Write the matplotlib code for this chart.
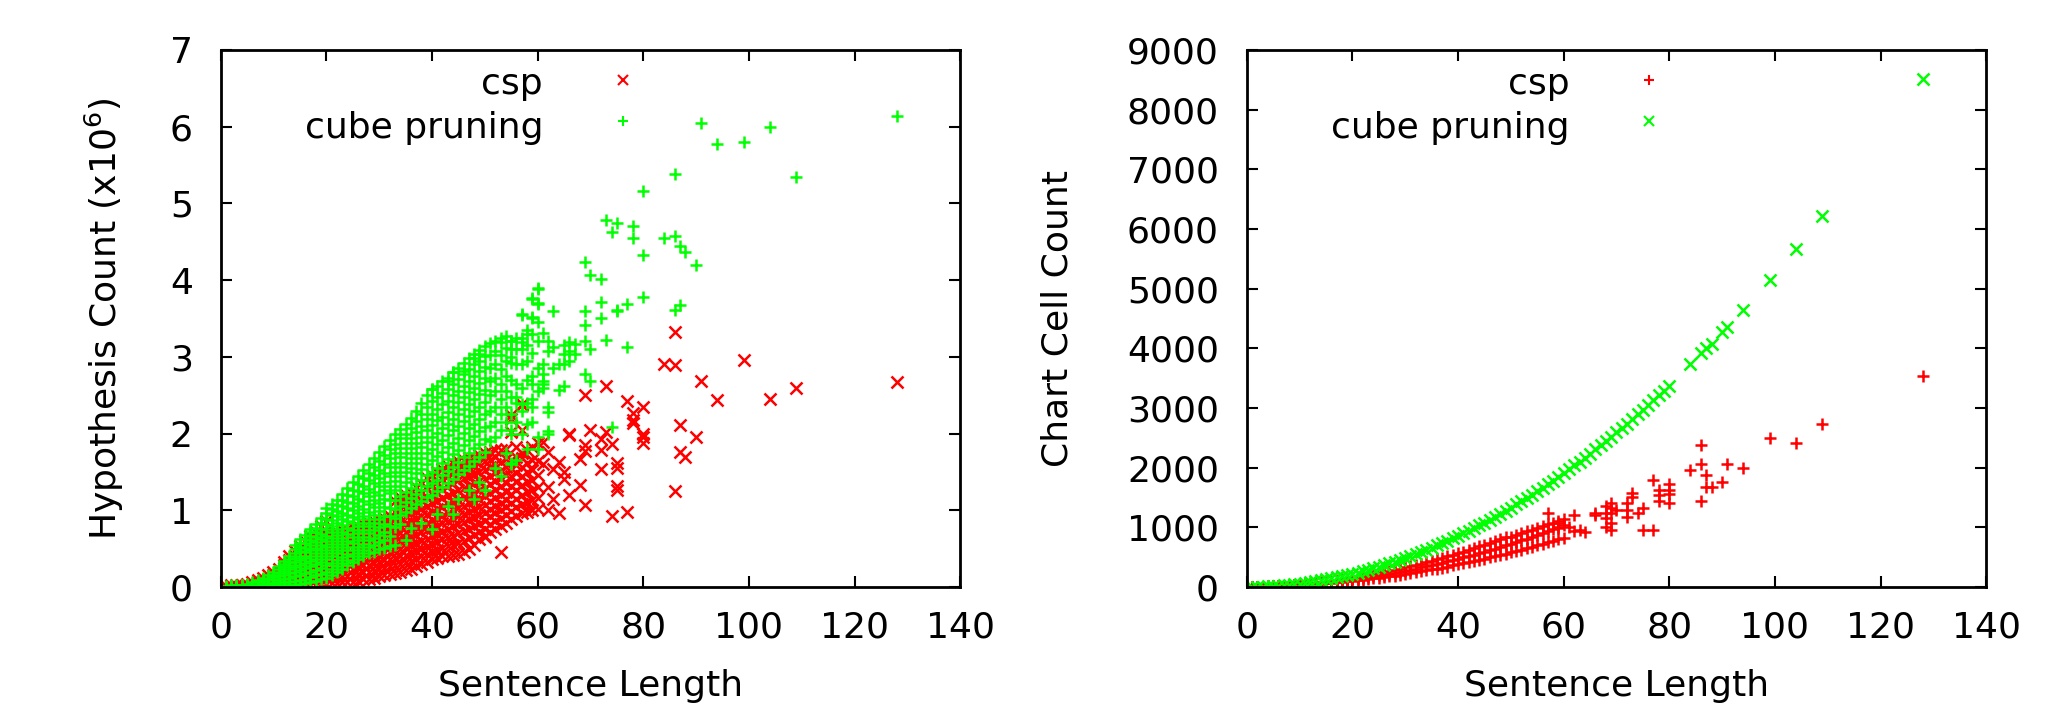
import numpy as np
import matplotlib.pyplot as plt

plt.rcParams['font.family'] = ['DejaVu Sans']
plt.rcParams['mathtext.fontset'] = 'dejavusans'

RED = '#ff0000'
GREEN = '#00ff00'

# ---- left panel: hypothesis count (x10^6) per sentence length ----
# rows: [length, value, value, ...]
hyp_csp_rows = [
    [1, 0.00, 0.01], [2, 0.00, 0.01, 0.02], [3, 0.00, 0.01, 0.02],
    [4, 0.00, 0.02, 0.03], [5, 0.01, 0.02, 0.04], [6, 0.01, 0.03, 0.06],
    [7, 0.01, 0.03, 0.06, 0.09], [8, 0.01, 0.04, 0.08, 0.12],
    [9, 0.01, 0.05, 0.10, 0.15],
    [10, 0.01, 0.04, 0.07, 0.10, 0.13, 0.16, 0.19],
    [11, 0.01, 0.04, 0.08, 0.12, 0.16, 0.20, 0.23],
    [12, 0.01, 0.05, 0.09, 0.13, 0.17, 0.21, 0.25, 0.29, 0.33],
    [13, 0.01, 0.05, 0.10, 0.15, 0.20, 0.25, 0.30, 0.35, 0.40],
    [14, 0.02, 0.06, 0.11, 0.17, 0.23, 0.29, 0.35, 0.41, 0.47],
    [15, 0.02, 0.07, 0.13, 0.19, 0.25, 0.31, 0.37, 0.43, 0.49, 0.54],
    [16, 0.02, 0.08, 0.14, 0.21, 0.28, 0.35, 0.41, 0.48, 0.54, 0.60],
    [17, 0.03, 0.09, 0.16, 0.23, 0.30, 0.37, 0.44, 0.51, 0.58, 0.66],
    [18, 0.03, 0.10, 0.17, 0.25, 0.32, 0.40, 0.48, 0.56, 0.64, 0.72],
    [19, 0.04, 0.11, 0.19, 0.27, 0.35, 0.43, 0.52, 0.61, 0.70, 0.80],
    [20, 0.04, 0.12, 0.20, 0.28, 0.37, 0.46, 0.55, 0.64, 0.73, 0.86],
    [21, 0.05, 0.12, 0.20, 0.28, 0.36, 0.44, 0.52, 0.60, 0.70],
    [22, 0.05, 0.13, 0.21, 0.29, 0.37, 0.45, 0.54, 0.63, 0.72],
    [23, 0.06, 0.14, 0.22, 0.30, 0.38, 0.47, 0.56, 0.65, 0.74],
    [24, 0.06, 0.14, 0.23, 0.31, 0.40, 0.49, 0.58, 0.67, 0.76],
    [25, 0.07, 0.15, 0.24, 0.33, 0.42, 0.51, 0.60, 0.69, 0.78],
    [26, 0.08, 0.17, 0.26, 0.35, 0.44, 0.53, 0.62, 0.71, 0.80],
    [27, 0.10, 0.19, 0.28, 0.37, 0.46, 0.55, 0.64, 0.73, 0.82],
    [28, 0.11, 0.20, 0.29, 0.39, 0.48, 0.57, 0.66, 0.75, 0.84],
    [29, 0.12, 0.21, 0.31, 0.40, 0.50, 0.59, 0.68, 0.77, 0.86],
    [30, 0.14, 0.23, 0.33, 0.42, 0.52, 0.61, 0.70, 0.79, 0.88],
    [31, 0.15, 0.25, 0.35, 0.44, 0.54, 0.63, 0.72, 0.81, 0.90],
    [32, 0.17, 0.27, 0.37, 0.46, 0.56, 0.65, 0.75, 0.84, 0.93],
    [33, 0.18, 0.28, 0.38, 0.48, 0.58, 0.68, 0.78, 0.88, 0.98, 1.12],
    [34, 0.20, 0.30, 0.40, 0.50, 0.60, 0.70, 0.80, 0.90, 1.00, 1.10, 1.17],
    [35, 0.22, 0.32, 0.42, 0.52, 0.62, 0.72, 0.83, 0.93, 1.03, 1.12, 1.20],
    [36, 0.24, 0.34, 0.44, 0.55, 0.65, 0.75, 0.86, 0.96, 1.06, 1.16, 1.24],
    [37, 0.27, 0.37, 0.47, 0.57, 0.68, 0.78, 0.89, 0.99, 1.09, 1.20, 1.30],
    [38, 0.30, 0.40, 0.50, 0.60, 0.71, 0.81, 0.92, 1.02, 1.13, 1.24, 1.36],
    [39, 0.33, 0.43, 0.53, 0.63, 0.74, 0.84, 0.95, 1.06, 1.17, 1.29, 1.42],
    [40, 0.36, 0.46, 0.56, 0.66, 0.77, 0.87, 0.98, 1.09, 1.21, 1.33, 1.46],
    [41, 0.38, 0.48, 0.59, 0.69, 0.80, 0.90, 1.01, 1.12, 1.24, 1.37, 1.50],
    [42, 0.40, 0.51, 0.62, 0.72, 0.83, 0.93, 1.04, 1.16, 1.28, 1.41, 1.54],
    [43, 0.41, 0.53, 0.65, 0.76, 0.86, 0.97, 1.08, 1.20, 1.32, 1.45, 1.58],
    [44, 0.42, 0.55, 0.67, 0.79, 0.89, 1.00, 1.11, 1.23, 1.36, 1.49, 1.62],
    [45, 0.43, 0.57, 0.70, 0.82, 0.92, 1.03, 1.14, 1.26, 1.39, 1.52, 1.64],
    [46, 0.45, 0.60, 0.73, 0.85, 0.95, 1.06, 1.17, 1.29, 1.42, 1.54, 1.66],
    [47, 0.50, 0.64, 0.76, 0.88, 0.98, 1.09, 1.20, 1.32, 1.44, 1.56, 1.68],
    [48, 0.55, 0.68, 0.79, 0.91, 1.01, 1.12, 1.23, 1.35, 1.47, 1.59, 1.70],
    [49, 0.62, 0.72, 0.82, 0.94, 1.04, 1.15, 1.26, 1.38, 1.50, 1.61, 1.72],
    [50, 0.66, 0.76, 0.86, 0.97, 1.07, 1.18, 1.29, 1.41, 1.53, 1.64, 1.74],
    [51, 0.72, 0.82, 0.92, 1.02, 1.12, 1.23, 1.34, 1.45, 1.56, 1.66, 1.76],
    [52, 0.76, 0.86, 0.96, 1.06, 1.16, 1.27, 1.38, 1.49, 1.60, 1.70, 1.78],
    [53, 0.80, 0.90, 1.00, 1.10, 1.20, 1.31, 1.42, 1.53, 1.63, 1.78],
    [54, 0.84, 0.94, 1.04, 1.14, 1.24, 1.35, 1.46, 1.57, 1.67, 1.80],
    [55, 0.88, 0.99, 1.10, 1.21, 1.32, 1.44, 1.55, 1.66],
    [56, 0.93, 1.04, 1.15, 1.26, 1.37, 1.48, 1.59, 1.70, 1.82],
    [57, 0.96, 1.08, 1.20, 1.33, 1.45, 1.57, 1.68, 1.74],
    [58, 0.98, 1.11, 1.24, 1.37, 1.50, 1.62, 1.78],
    [59, 1.00, 1.13, 1.26, 1.39, 1.52, 1.65, 1.82],
    [60, 1.02, 1.16, 1.30, 1.46, 1.64, 1.88],
]
hyp_csp_extra_x = [86, 84, 86, 99, 73, 91, 128, 77, 94, 104, 109, 80, 78, 78, 78, 87, 80, 80, 80, 90,
                   73, 72, 72, 74, 87, 88, 72, 75, 75, 86, 74, 77, 69, 70, 66, 69, 69, 68, 68, 69,
                   75, 75, 64, 62, 61, 62, 64, 65, 63, 62, 57, 55, 53, 61, 65, 66, 63, 55, 57, 57,
                   55, 50, 66]
hyp_csp_extra_y = [3.32, 2.91, 2.89, 2.96, 2.62, 2.69, 2.67, 2.42, 2.44, 2.45, 2.59, 2.34, 2.27, 2.18, 2.14, 2.11, 2.00, 1.95, 1.88, 1.95,
                   2.02, 1.93, 1.79, 1.87, 1.76, 1.69, 1.54, 1.55, 1.27, 1.25, 0.93, 0.98, 2.50, 2.04, 1.98, 1.85, 1.77, 1.67, 1.33, 1.07,
                   1.61, 1.32, 0.96, 1.00, 1.89, 1.76, 1.63, 1.41, 1.54, 1.30, 2.39, 2.24, 0.46, 1.60, 1.50, 1.20, 1.15, 2.02, 2.04, 2.37,
                   2.19, 0.65, 2.00]

hyp_cube_rows = [
    [1, 0.00, 0.01], [2, 0.00, 0.01, 0.02], [3, 0.00, 0.01, 0.02],
    [4, 0.01, 0.02, 0.03], [5, 0.01, 0.02, 0.04], [6, 0.01, 0.03, 0.06],
    [7, 0.01, 0.03, 0.06, 0.09], [8, 0.01, 0.04, 0.08, 0.12],
    [9, 0.01, 0.05, 0.10, 0.15],
    [10, 0.02, 0.05, 0.09, 0.13, 0.16, 0.19],
    [11, 0.02, 0.06, 0.10, 0.14, 0.18, 0.23, 0.27],
    [12, 0.02, 0.06, 0.11, 0.16, 0.21, 0.26, 0.30, 0.34],
    [13, 0.03, 0.07, 0.12, 0.18, 0.23, 0.28, 0.33, 0.37, 0.41],
    [14, 0.03, 0.08, 0.14, 0.20, 0.26, 0.32, 0.38, 0.44, 0.50, 0.55],
    [15, 0.04, 0.09, 0.15, 0.22, 0.28, 0.35, 0.41, 0.47, 0.52, 0.57, 0.62],
    [16, 0.05, 0.11, 0.18, 0.25, 0.31, 0.38, 0.45, 0.51, 0.57, 0.63, 0.68],
    [17, 0.06, 0.13, 0.20, 0.27, 0.34, 0.41, 0.48, 0.55, 0.61, 0.67, 0.72, 0.76],
    [18, 0.08, 0.15, 0.22, 0.30, 0.37, 0.44, 0.51, 0.58, 0.65, 0.71, 0.77, 0.82],
    [19, 0.10, 0.17, 0.25, 0.33, 0.40, 0.48, 0.55, 0.62, 0.69, 0.76, 0.83, 0.90],
    [20, 0.12, 0.20, 0.28, 0.36, 0.44, 0.52, 0.60, 0.67, 0.75, 0.82, 0.89, 0.96, 1.03],
    [21, 0.15, 0.23, 0.31, 0.40, 0.48, 0.56, 0.64, 0.72, 0.80, 0.87, 0.94, 1.01, 1.08],
    [22, 0.19, 0.27, 0.35, 0.44, 0.52, 0.60, 0.68, 0.76, 0.84, 0.92, 0.99, 1.07, 1.14],
    [23, 0.24, 0.31, 0.39, 0.48, 0.56, 0.64, 0.72, 0.81, 0.89, 0.97, 1.05, 1.13, 1.21],
    [24, 0.28, 0.35, 0.43, 0.52, 0.60, 0.69, 0.77, 0.86, 0.94, 1.03, 1.11, 1.20, 1.29],
    [25, 0.33, 0.40, 0.48, 0.57, 0.65, 0.74, 0.83, 0.91, 1.00, 1.09, 1.18, 1.27, 1.37],
    [26, 0.37, 0.44, 0.52, 0.61, 0.70, 0.79, 0.88, 0.97, 1.06, 1.15, 1.25, 1.34, 1.44],
    [27, 0.40, 0.48, 0.56, 0.65, 0.74, 0.83, 0.93, 1.02, 1.12, 1.22, 1.32, 1.42, 1.52],
    [28, 0.44, 0.52, 0.61, 0.70, 0.79, 0.89, 0.98, 1.08, 1.18, 1.28, 1.39, 1.49, 1.60],
    [29, 0.46, 0.55, 0.64, 0.74, 0.84, 0.94, 1.04, 1.14, 1.24, 1.35, 1.46, 1.57, 1.68],
    [30, 0.49, 0.58, 0.68, 0.78, 0.88, 0.99, 1.09, 1.20, 1.31, 1.42, 1.53, 1.64, 1.76],
    [31, 0.51, 0.61, 0.71, 0.82, 0.93, 1.04, 1.15, 1.26, 1.37, 1.49, 1.60, 1.72, 1.84],
    [32, 0.53, 0.66, 0.80, 0.92, 1.03, 1.13, 1.22, 1.32, 1.44, 1.56, 1.68, 1.80, 1.92],
    [33, 0.55, 0.78, 0.90, 1.02, 1.14, 1.26, 1.38, 1.50, 1.62, 1.75, 1.87, 1.99],
    [34, 0.82, 0.94, 1.06, 1.19, 1.31, 1.44, 1.56, 1.69, 1.81, 1.94, 2.06],
    [35, 0.61, 0.98, 1.11, 1.24, 1.37, 1.50, 1.62, 1.75, 1.88, 2.00, 2.13],
    [36, 0.77, 1.03, 1.16, 1.29, 1.42, 1.55, 1.68, 1.81, 1.94, 2.07, 2.20],
    [37, 1.08, 1.21, 1.34, 1.48, 1.61, 1.75, 1.88, 2.02, 2.16, 2.30],
    [38, 0.84, 1.12, 1.26, 1.40, 1.54, 1.68, 1.82, 1.96, 2.10, 2.25, 2.40],
    [39, 1.17, 1.31, 1.46, 1.60, 1.75, 1.89, 2.04, 2.19, 2.34, 2.50],
    [40, 0.75, 1.20, 1.35, 1.50, 1.65, 1.80, 1.95, 2.11, 2.26, 2.42, 2.58],
    [41, 0.95, 1.25, 1.40, 1.55, 1.71, 1.86, 2.01, 2.17, 2.32, 2.47, 2.62],
    [42, 1.30, 1.46, 1.61, 1.76, 1.92, 2.07, 2.22, 2.38, 2.53, 2.68],
    [43, 1.05, 1.36, 1.51, 1.67, 1.82, 1.98, 2.13, 2.28, 2.43, 2.58, 2.73],
    [44, 0.95, 1.41, 1.57, 1.73, 1.88, 2.04, 2.19, 2.34, 2.50, 2.65, 2.80],
    [45, 1.15, 1.47, 1.63, 1.79, 1.94, 2.10, 2.26, 2.41, 2.56, 2.71, 2.86],
    [46, 1.53, 1.69, 1.85, 2.01, 2.16, 2.32, 2.47, 2.62, 2.77, 2.92],
    [47, 1.26, 1.58, 1.75, 1.91, 2.07, 2.23, 2.38, 2.54, 2.69, 2.84, 2.98],
    [48, 1.15, 1.64, 1.81, 1.97, 2.13, 2.29, 2.45, 2.60, 2.75, 2.90, 3.04],
    [49, 1.37, 1.70, 1.87, 2.03, 2.19, 2.35, 2.51, 2.66, 2.81, 2.95, 3.09],
    [50, 1.26, 1.76, 1.93, 2.09, 2.25, 2.41, 2.57, 2.72, 2.87, 3.01, 3.14],
    [51, 1.90, 2.10, 2.30, 2.50, 2.68, 2.86, 3.03, 3.18],
    [52, 1.55, 1.95, 2.15, 2.35, 2.55, 2.73, 2.91, 3.07, 3.21],
    [53, 1.45, 2.05, 2.25, 2.45, 2.65, 2.84, 3.02, 3.24],
    [54, 1.75, 2.15, 2.35, 2.55, 2.75, 2.95, 3.12, 3.27],
    [55, 1.60, 2.04, 2.26, 2.48, 2.70, 2.92, 3.10, 3.20],
    [56, 1.65, 2.15, 2.40, 2.65, 2.90, 3.10, 3.25],
    [57, 2.00, 2.30, 2.60, 2.90, 3.10, 3.25, 3.55],
    [58, 1.80, 2.40, 2.70, 2.95, 3.15, 3.35],
    [59, 2.15, 2.45, 2.75, 3.05, 3.30, 3.52, 3.76],
    [60, 1.95, 2.55, 2.85, 3.20, 3.45, 3.70, 3.89],
]
hyp_cube_extra_x = [57, 60, 59, 60, 59, 61, 62, 62, 61, 63, 65, 65, 63, 64, 66, 66, 58, 57, 55, 53,
                    55, 49, 48, 46, 44, 40, 43, 61, 59, 61, 64, 56, 57, 59, 62, 58, 62, 55, 60, 55,
                    63, 61, 61, 65, 69, 70, 67, 67, 69, 70, 65, 66, 62, 62, 74, 72, 75, 77, 73, 77,
                    69, 69, 69, 70, 72, 72, 80, 75, 86, 87, 73, 75, 74, 78, 78, 84, 86, 87, 88, 90,
                    80, 80, 86, 91, 94, 99, 104, 109, 128]
hyp_cube_extra_y = [3.56, 3.90, 3.77, 3.69, 3.51, 3.31, 3.21, 3.08, 2.91, 3.13, 3.16, 3.04, 2.86, 2.90, 3.19, 3.08, 3.30, 3.19, 3.21, 3.19,
                    3.00, 3.04, 2.99, 2.82, 2.80, 2.58, 2.69, 2.69, 2.65, 2.60, 2.57, 2.47, 2.39, 2.35, 2.28, 2.13, 2.00, 2.00, 1.80, 1.61,
                    3.60, 2.77, 2.64, 2.62, 2.77, 2.68, 3.17, 3.04, 3.21, 3.10, 2.90, 2.95, 2.35, 2.03, 2.08, 3.51, 3.60, 3.69, 3.22, 3.13,
                    3.60, 3.41, 4.24, 4.07, 4.02, 3.72, 3.78, 3.61, 3.61, 3.68, 4.79, 4.74, 4.63, 4.71, 4.55, 4.55, 4.58, 4.44, 4.37, 4.20,
                    4.33, 5.16, 5.38, 6.05, 5.77, 5.80, 5.99, 5.35, 6.14]

# ---- right panel: chart cell count per sentence length ----
cell_csp_rows = [
    [1, 1, 1, 1], [2, 2, 3, 4], [3, 4, 5, 6], [4, 7, 8, 10], [5, 10, 12, 14],
    [6, 13, 16, 19], [7, 16, 20, 24], [8, 20, 25, 30], [9, 25, 31, 37], [10, 30, 37, 44],
    [11, 35, 44, 53], [12, 41, 51, 61], [13, 47, 59, 71], [14, 54, 67, 80], [15, 61, 76, 91],
    [16, 68, 85, 102], [17, 76, 95, 114], [18, 84, 105, 126], [19, 93, 116, 139], [20, 102, 128, 154],
    [21, 112, 140, 168], [22, 122, 153, 184], [23, 133, 166, 199], [24, 144, 180, 216], [25, 155, 194, 233],
    [26, 166, 208, 250], [27, 179, 224, 269], [28, 192, 240, 288], [29, 205, 256, 307], [30, 218, 273, 328],
    [31, 232, 290, 348], [32, 246, 308, 370], [33, 262, 327, 392], [34, 277, 346, 415], [35, 293, 366, 439],
    [36, 309, 386, 463], [37, 326, 407, 488], [38, 342, 428, 514], [39, 360, 450, 540], [40, 378, 472, 566],
    [41, 396, 495, 594], [42, 414, 518, 622], [43, 434, 542, 650], [44, 454, 567, 680], [45, 474, 592, 710],
    [46, 494, 617, 740], [47, 514, 643, 772], [48, 536, 670, 804], [49, 558, 697, 836], [50, 580, 725, 840],
    [51, 602, 753, 870], [52, 626, 782, 900], [53, 649, 811, 930], [54, 673, 841, 960], [55, 698, 872, 990],
    [56, 722, 903, 1020], [57, 747, 934, 1050], [58, 773, 966, 1080], [59, 799, 999, 1110], [60, 826, 1032, 1140],
]
cell_csp_extra_x = [57, 59, 59, 61, 62, 62, 63, 64, 66, 66, 68, 68, 68, 68, 69, 69, 69, 69, 69, 70,
                    72, 72, 72, 73, 73, 74, 75, 75, 77, 77, 78, 78, 78, 80, 80, 80, 80, 84, 86, 86,
                    86, 87, 87, 88, 90, 91, 94, 99, 104, 109, 128]
cell_csp_extra_y = [1243, 1076, 981, 1000, 1204, 940, 960, 920, 1243, 1204, 1355, 1243, 1149, 1008, 1400, 1316, 1232, 1065, 953, 1288,
                    1410, 1288, 1176, 1577, 1510, 1232, 1316, 953, 953, 1800, 1633, 1538, 1443, 1722, 1633, 1566, 1399, 1968, 2375, 2068,
                    1443, 1873, 1677, 1677, 1761, 2068, 1989, 2497, 2407, 2730, 3536]

cell_cube_len = list(range(1, 81)) + [84, 86, 87, 88, 90, 91, 94, 99, 104, 109, 128]
cell_cube_val = [1, 3, 7, 11, 16, 22, 30, 38, 48, 58, 70, 82, 96, 110, 126, 143, 161, 179, 199, 220,
                 242, 265, 289, 314, 340, 367, 395, 425, 455, 486, 518, 552, 586, 622, 658, 696, 734, 774, 814, 856,
                 899, 943, 987, 1033, 1080, 1128, 1177, 1227, 1278, 1330, 1383, 1437, 1493, 1549, 1606, 1664, 1724, 1784, 1846, 1908,
                 1972, 2036, 2102, 2168, 2236, 2305, 2375, 2445, 2517, 2590, 2664, 2739, 2815, 2892, 2970, 3049, 3129, 3211, 3292, 3376,
                 3734, 3913, 4002, 4080, 4271, 4349, 4642, 5137, 5663, 6213, 8510]


def flatten(rows):
    xs, ys = [], []
    for r in rows:
        for v in r[1:]:
            xs.append(r[0])
            ys.append(v)
    return xs, ys


FS = 26
MS = 8
MEW = 1.8


def style(ax, ymax, ystep):
    ax.set_xlim(0, 140)
    ax.set_ylim(0, ymax)
    ax.set_xticks(range(0, 141, 20))
    ax.set_yticks(np.arange(0, ymax + 1, ystep))
    ax.tick_params(direction='in', length=8, width=1.5, top=True, right=True, labelsize=FS)
    ax.tick_params(axis='x', pad=17)
    ax.tick_params(axis='y', pad=20)
    for s in ax.spines.values():
        s.set_linewidth(2)
    ax.set_xlabel('Sentence Length', fontsize=FS, va='center')
    ax.xaxis.set_label_coords(0.5, -0.184)


def key(ax, y_txt, y_mk, label, marker, color):
    ax.text(0.436, y_txt, label, transform=ax.transAxes, ha='right', va='center', fontsize=FS)
    ax.plot([0.544], [y_mk], marker=marker, ms=7.5, mew=1.5, color=color, ls='none',
            transform=ax.transAxes, clip_on=False)


fig = plt.figure(figsize=(20.6, 7.18), dpi=100)
ax1 = fig.add_axes([0.1071, 0.1825, 0.3590, 0.7479])
ax2 = fig.add_axes([0.6052, 0.1825, 0.3590, 0.7479])

# left: csp drawn first, cube pruning on top
x, y = flatten(hyp_csp_rows)
ax1.plot(x + hyp_csp_extra_x, y + hyp_csp_extra_y, 'x', color=RED, ms=MS, mew=MEW)
x, y = flatten(hyp_cube_rows)
ax1.plot(x + hyp_cube_extra_x, y + hyp_cube_extra_y, '+', color=GREEN, ms=MS, mew=MEW)
style(ax1, 7, 1)
ax1.set_ylabel('Hypothesis Count (x10$^6$)', fontsize=FS)
ax1.yaxis.set_label_coords(-0.128, 0.5)
key(ax1, 0.937, 0.944, 'csp', 'x', RED)
key(ax1, 0.855, 0.867, 'cube pruning', '+', GREEN)

# right
x, y = flatten(cell_csp_rows)
ax2.plot(x + cell_csp_extra_x, y + cell_csp_extra_y, '+', color=RED, ms=MS, mew=MEW)
ax2.plot(cell_cube_len, cell_cube_val, 'x', color=GREEN, ms=MS, mew=MEW)
style(ax2, 9000, 1000)
ax2.set_ylabel('Chart Cell Count', fontsize=FS)
ax2.yaxis.set_label_coords(-0.233, 0.5)
key(ax2, 0.937, 0.944, 'csp', '+', RED)
key(ax2, 0.855, 0.867, 'cube pruning', 'x', GREEN)

fig.savefig('out.png', dpi=100)
